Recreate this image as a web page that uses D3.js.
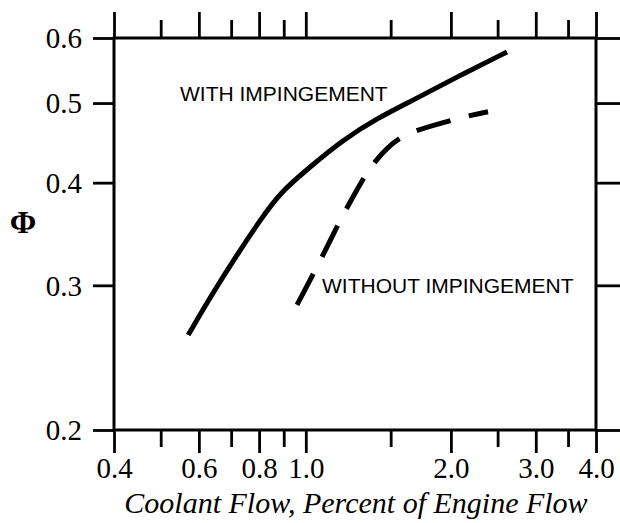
<!DOCTYPE html>
<html>
<head>
<meta charset="utf-8">
<script src="https://cdn.jsdelivr.net/npm/d3@7"></script>
<style>
  html, body { margin: 0; padding: 0; background: #fff; }
  svg { display: block; }
</style>
</head>
<body>
<svg id="chart" width="620" height="523"></svg>
<script>
// Film-cooling effectiveness vs coolant flow (log-log)
const withFlow  = [0.570, 0.642, 0.730, 0.804, 0.884, 1.020, 1.195, 1.405, 1.669, 2.059, 2.615];
const withPhi   = [0.261, 0.294, 0.331, 0.360, 0.389, 0.418, 0.451, 0.479, 0.504, 0.538, 0.577];
const withoutFlow = [0.959, 1.081, 1.218, 1.392, 1.569, 2.020, 2.388];
const withoutPhi  = [0.284, 0.325, 0.373, 0.424, 0.453, 0.477, 0.488];

const xMajorTicks = [0.4, 0.6, 0.8, 1.0, 2.0, 3.0, 4.0];
const xMinorTicks = [0.5, 0.7, 0.9, 1.5, 2.5, 3.5];
const yTicks = [0.2, 0.3, 0.4, 0.5, 0.6];

const plotLeft = 114, plotRight = 596, plotTop = 38, plotBottom = 430;

const svg = d3.select("#chart");
const x = d3.scaleLog().domain([0.4, 4.0]).range([plotLeft, plotRight]);
const y = d3.scaleLog().domain([0.2, 0.6]).range([plotBottom, plotTop]);

const serif = "'Liberation Serif', 'Times New Roman', serif";
const sans = "'Liberation Sans', Arial, sans-serif";

function styleAxis(g) {
  g.select(".domain").remove();
  g.selectAll(".tick line").attr("stroke", "#000").attr("stroke-width", 2.8);
  g.selectAll("text").attr("fill", "#000").style("font-family", serif).style("font-size", "29px");
}

// bottom axis: long major ticks with labels, shorter minor ticks
svg.append("g").attr("transform", `translate(0,${plotBottom})`)
  .call(d3.axisBottom(x).tickValues(xMajorTicks).tickSize(23).tickPadding(0)
        .tickFormat(d3.format(".1f")))
  .call(styleAxis)
  .call(g => g.selectAll("text").attr("dy", null).attr("y", 48));
svg.append("g").attr("transform", `translate(0,${plotBottom})`)
  .call(d3.axisBottom(x).tickValues(xMinorTicks).tickSize(17).tickFormat(""))
  .call(styleAxis);

// top axis: outward ticks without labels
svg.append("g").attr("transform", `translate(0,${plotTop})`)
  .call(d3.axisTop(x).tickValues(xMajorTicks).tickSize(26).tickFormat(""))
  .call(styleAxis);
svg.append("g").attr("transform", `translate(0,${plotTop})`)
  .call(d3.axisTop(x).tickValues(xMinorTicks).tickSize(18).tickFormat(""))
  .call(styleAxis);

// left axis with labels, right axis ticks only
svg.append("g").attr("transform", `translate(${plotLeft},0)`)
  .call(d3.axisLeft(y).tickValues(yTicks).tickSize(21).tickPadding(11)
        .tickFormat(d3.format(".1f")))
  .call(styleAxis)
  .call(g => g.selectAll("text").attr("dy", "0.34em"));
svg.append("g").attr("transform", `translate(${plotRight},0)`)
  .call(d3.axisRight(y).tickValues(yTicks).tickSize(26).tickFormat(""))
  .call(styleAxis);

// plot frame
svg.append("rect")
  .attr("x", plotLeft).attr("y", plotTop)
  .attr("width", plotRight - plotLeft).attr("height", plotBottom - plotTop)
  .attr("fill", "none").attr("stroke", "#000").attr("stroke-width", 3);

// curves
const solidLine = d3.line()
  .x(d => x(d[0])).y(d => y(d[1]))
  .curve(d3.curveBasis);
const dashedLine = d3.line()
  .x(d => x(d[0])).y(d => y(d[1]))
  .curve(d3.curveCatmullRom.alpha(0.5));

svg.append("path")
  .datum(d3.zip(withFlow, withPhi))
  .attr("d", solidLine)
  .attr("fill", "none").attr("stroke", "#000").attr("stroke-width", 5);

svg.append("path")
  .datum(d3.zip(withoutFlow, withoutPhi))
  .attr("d", dashedLine)
  .attr("fill", "none").attr("stroke", "#000").attr("stroke-width", 5)
  .attr("stroke-dasharray", "35,19");

// curve labels
svg.append("text").attr("x", 180).attr("y", 101)
  .style("font-family", sans).style("font-size", "21px").attr("fill", "#000")
  .text("WITH IMPINGEMENT");
svg.append("text").attr("x", 322).attr("y", 293)
  .style("font-family", sans).style("font-size", "21px").attr("fill", "#000")
  .text("WITHOUT IMPINGEMENT");

// axis titles
svg.append("text").attr("x", 23).attr("y", 233).attr("text-anchor", "middle")
  .style("font-family", serif).style("font-size", "32px").style("font-weight", "bold")
  .attr("fill", "#000").text("Φ");
svg.append("text").attr("x", 356).attr("y", 513).attr("text-anchor", "middle")
  .style("font-family", serif).style("font-size", "30px").style("font-style", "italic")
  .attr("fill", "#000").text("Coolant Flow, Percent of Engine Flow");
</script>
</body>
</html>
